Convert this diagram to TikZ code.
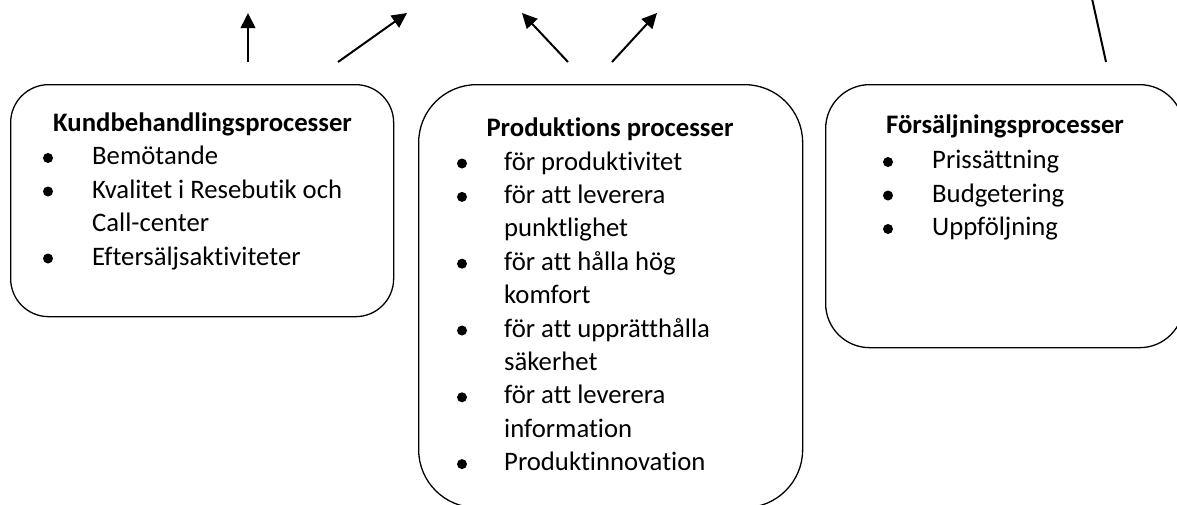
\documentclass[tikz,border=0pt]{standalone}
\usepackage{fontspec}
\setmainfont{Carlito}[Ligatures=NoCommon]
\usetikzlibrary{arrows.meta}

\tikzset{
  procbox/.style={draw, line width=1.3pt, anchor=north west, inner sep=0pt},
  head/.style={anchor=base, inner sep=0pt, font=\bfseries},
  entry/.style={anchor=base west, inner sep=0pt},
  dot/.style={circle, fill=black, inner sep=0pt, minimum size=10pt},
  arr/.style={line width=2pt, -{Triangle[length=15pt,width=14.5pt]}},
  plain/.style={line width=2pt},
}

\begin{document}
\begin{tikzpicture}[x=1pt,y=-1pt]
\fontsize{26.7}{33}\selectfont
\clip (0,0) rectangle (1177,504);

% the three process boxes
\node[procbox, rounded corners=38pt, minimum width=383pt, minimum height=232pt] (kund) at (10,84) {};
\node[procbox, rounded corners=58pt, minimum width=384pt, minimum height=423pt] (prod) at (418,84) {};
\node[procbox, rounded corners=44pt, minimum width=358pt, minimum height=263pt] (fors) at (825,84) {};

% Kundbehandlingsprocesser
\node[head]  (kt) at (202.5,131.5) {Kundbehandlingsprocesser};
\node[dot]   (kb1) at (48,158) {};
\node[entry] (k1) at (92,164.5) {Bemötande};
\node[dot]   (kb2) at (48,191.5) {};
\node[entry] (k2) at (92,198) {Kvalitet i Resebutik och};
\node[entry] (k3) at (92,231.5) {Call-center};
\node[dot]   (kb4) at (48,258.5) {};
\node[entry] (k4) at (92,265) {Eftersäljsaktiviteter};

% Produktions processer
\node[head]  (pt) at (610,136.5) {Produktions processer};
\node[dot]   (pb1) at (462,163.5) {};
\node[entry] (p1) at (504,170) {för produktivitet};
\node[dot]   (pb2) at (462,196.9) {};
\node[entry] (p2) at (504,203.4) {för att leverera};
\node[entry] (p3) at (504,236.8) {punktlighet};
\node[dot]   (pb4) at (462,263.7) {};
\node[entry] (p4) at (504,270.2) {för att hålla hög};
\node[entry] (p5) at (504,303.6) {komfort};
\node[dot]   (pb6) at (462,330.5) {};
\node[entry] (p6) at (504,337) {för att upprätthålla};
\node[entry] (p7) at (504,370.4) {säkerhet};
\node[dot]   (pb8) at (462,397.3) {};
\node[entry] (p8) at (504,403.8) {för att leverera};
\node[entry] (p9) at (504,437.2) {information};
\node[dot]   (pb10) at (462,464.1) {};
\node[entry] (p10) at (504,470.6) {Produktinnovation};

% Försäljningsprocesser
\node[head]  (ft) at (1005,133.5) {Försäljningsprocesser};
\node[dot]   (fb1) at (888,162) {};
\node[entry] (f1) at (932,168.5) {Prissättning};
\node[dot]   (fb2) at (888,195.5) {};
\node[entry] (f2) at (932,202) {Budgetering};
\node[dot]   (fb3) at (888,229) {};
\node[entry] (f3) at (932,235.5) {Uppföljning};

% arrows leaving the boxes upwards
\coordinate (a1s) at (248,62);  \coordinate (a1e) at (248,13);
\coordinate (a2s) at (338,62);  \coordinate (a2e) at (407,13);
\coordinate (a3s) at (568,62);  \coordinate (a3e) at (522,13);
\coordinate (a4s) at (612,62);  \coordinate (a4e) at (657,13);
\coordinate (a5s) at (1106,62); \coordinate (a5e) at (1091,-6);

\draw[arr] (a1s) -- (a1e);
\draw[arr] (a2s) -- (a2e);
\draw[arr] (a3s) -- (a3e);
\draw[arr] (a4s) -- (a4e);
\draw[plain] (a5s) -- (a5e);
\end{tikzpicture}
\end{document}
